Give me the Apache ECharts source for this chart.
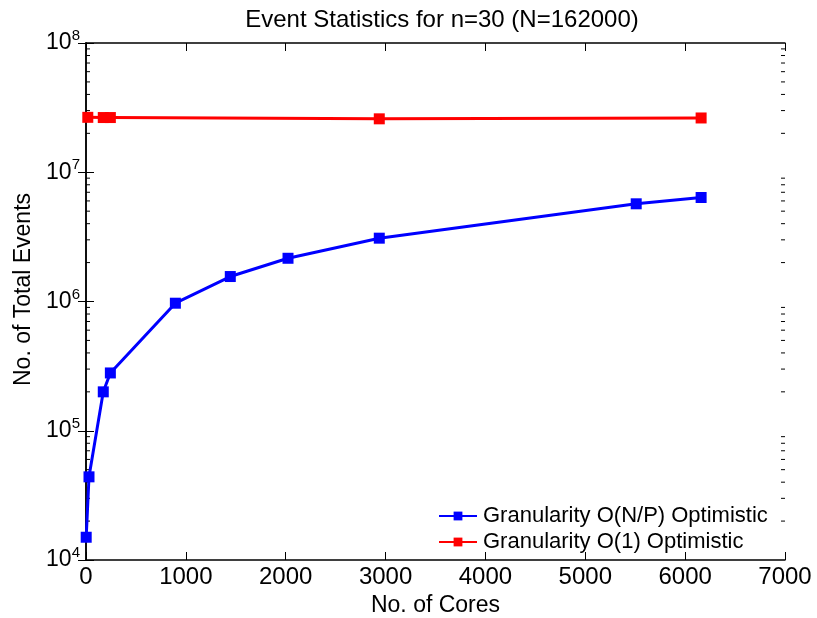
<!DOCTYPE html>
<html>
<head>
<meta charset="utf-8">
<script src="https://cdn.jsdelivr.net/npm/echarts@6/dist/echarts.min.js"></script>
<style>
html, body { margin: 0; padding: 0; background: #fff; }
#chart { width: 817px; height: 618px; }
</style>
</head>
<body>
<div id="chart"></div>
<script>
// data
var titleText = 'Event Statistics for n=30 (N=162000)';
var seriesNames = ['Granularity O(N/P) Optimistic', 'Granularity O(1) Optimistic'];

var blueCores = [2, 30, 173, 244, 895, 1445, 2023, 2937, 5510, 6160];
var blueEvents = [15000, 44000, 200000, 280000, 970000, 1560000, 2160000, 3090000, 5700000, 6380000];

var redCores = [18, 173, 244, 2937, 6160];
var redEvents = [26600000, 26500000, 26500000, 25900000, 26300000];

var xTicks = [0, 1000, 2000, 3000, 4000, 5000, 6000, 7000];
var yPowers = [4, 5, 6, 7, 8];

// minor ticks on log axis: 2..9 x 10^n
var minorTicks = [];
for (var p = 4; p < 8; p++) {
    for (var k = 2; k <= 9; k++) {
        minorTicks.push([0, k * Math.pow(10, p)]);
    }
}

function pairs(xs, ys) {
    return xs.map(function (x, i) { return [x, ys[i]]; });
}

var font = 'Liberation Sans, Arial, Helvetica, sans-serif';
var black = '#000';

var chart = echarts.init(document.getElementById('chart'), null, { renderer: 'canvas' });

var yBase = {
    type: 'log',
    logBase: 10,
    min: Math.pow(10, yPowers[0]),
    max: Math.pow(10, yPowers[yPowers.length - 1]),
    axisLine: { show: true, lineStyle: { color: black, width: 1.5 } },
    axisTick: { show: true, inside: true, length: 8, lineStyle: { color: black, width: 1 } },
    splitLine: { show: false },
    minorTick: { show: false }
};

var xBase = {
    type: 'value',
    min: xTicks[0],
    max: xTicks[xTicks.length - 1],
    interval: 1000,
    axisLine: { show: true, onZero: false, lineStyle: { color: black, width: 1.5 } },
    axisTick: { show: true, inside: true, length: 8, lineStyle: { color: black, width: 1 } },
    splitLine: { show: false }
};

chart.setOption({
    animation: false,
    backgroundColor: '#fff',
    textStyle: { fontFamily: font },
    title: {
        text: titleText,
        left: 437,
        textAlign: 'center',
        top: 3,
        textStyle: { fontFamily: font, fontSize: 24, fontWeight: 'normal', color: black }
    },
    legend: {
        data: seriesNames,
        orient: 'vertical',
        left: 433,
        top: 500,
        itemWidth: 38,
        itemHeight: 11,
        itemGap: 4,
        textStyle: { fontFamily: font, fontSize: 22, lineHeight: 20, color: black, padding: [0, 0, 0, 1] }
    },
    grid: { left: 86, right: 32, top: 43, bottom: 58, outerBoundsMode: 'none', containLabel: false },
    xAxis: [
        Object.assign({}, xBase, {
            position: 'bottom',
            name: 'No. of Cores',
            nameLocation: 'middle',
            nameGap: 31,
            nameTextStyle: { fontFamily: font, fontSize: 23, color: black },
            axisLabel: {
                color: black, fontFamily: font, fontSize: 24, margin: 5,
                formatter: function (v) { return String(v); }
            }
        }),
        Object.assign({}, xBase, {
            position: 'top',
            axisLabel: { show: false }
        })
    ],
    yAxis: [
        Object.assign({}, yBase, {
            position: 'left',
            name: 'No. of Total Events',
            nameLocation: 'middle',
            nameGap: 50,
            nameTextStyle: { fontFamily: font, fontSize: 23, color: black, padding: [0, 0, 0, 24] },
            axisLabel: {
                color: black,
                fontFamily: font,
                fontSize: 23,
                margin: 6,
                formatter: function (v) {
                    return '10{sup|' + Math.round(Math.log10(v)) + '}';
                },
                rich: {
                    sup: { fontSize: 15, fontFamily: font, color: black, padding: [0, 0, 14, 0] }
                }
            }
        }),
        Object.assign({}, yBase, {
            position: 'right',
            axisLabel: { show: false }
        })
    ],
    series: [
        {
            name: seriesNames[0],
            type: 'line',
            data: pairs(blueCores, blueEvents),
            color: '#0000ff',
            lineStyle: { width: 3, color: '#0000ff' },
            symbol: 'rect',
            symbolSize: 11,
            itemStyle: { color: '#0000ff' },
            z: 3
        },
        {
            name: seriesNames[1],
            type: 'line',
            data: pairs(redCores, redEvents),
            color: '#ff0000',
            lineStyle: { width: 3, color: '#ff0000' },
            symbol: 'rect',
            symbolSize: 11,
            itemStyle: { color: '#ff0000' },
            z: 3
        },
        {
            type: 'custom',
            silent: true,
            data: minorTicks,
            z: 1,
            renderItem: function (params, api) {
                var v = api.value(1);
                var a = api.coord([xTicks[0], v]);
                var b = api.coord([xTicks[xTicks.length - 1], v]);
                var st = { stroke: black, lineWidth: 1 };
                return {
                    type: 'group',
                    children: [
                        { type: 'line', shape: { x1: a[0], y1: a[1], x2: a[0] + 4, y2: a[1] }, style: st },
                        { type: 'line', shape: { x1: b[0] - 4, y1: b[1], x2: b[0], y2: b[1] }, style: st }
                    ]
                };
            }
        }
    ]
});
</script>
</body>
</html>
